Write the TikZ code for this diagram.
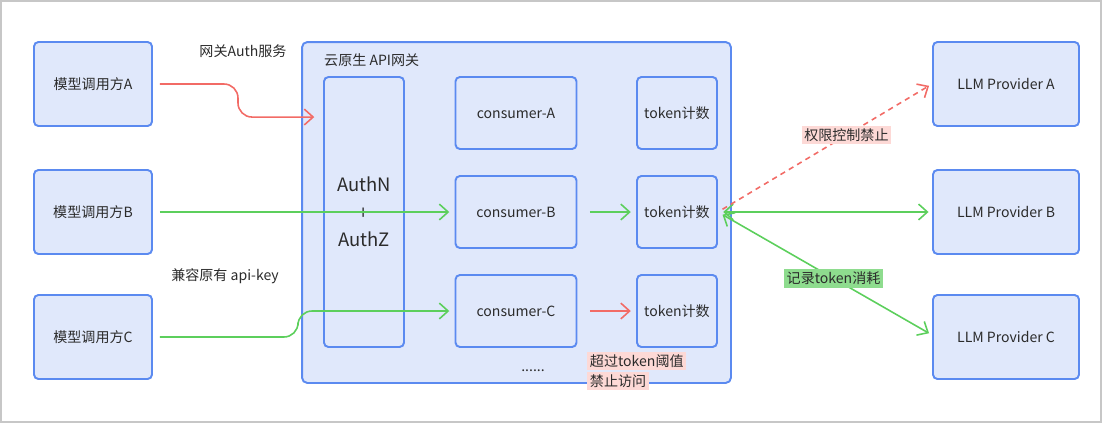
\documentclass[tikz,border=0pt]{standalone}
\usepackage{fontspec}
\setmainfont{Noto Sans CJK SC}
\usetikzlibrary{arrows.meta}

\definecolor{boxfill}{HTML}{E0E8FB}
\definecolor{boxline}{HTML}{5B8AF0}
\definecolor{redline}{HTML}{F26B66}
\definecolor{greenline}{HTML}{5CCF5C}
\definecolor{pinkbg}{HTML}{FDD9D6}
\definecolor{greenbg}{HTML}{8EDC8E}
\definecolor{txt}{HTML}{2B2B2B}

\begin{document}
\begin{tikzpicture}[
        x=0.02cm, y=-0.02cm,
        every node/.style={font=\fontsize{8}{10}\selectfont, text=txt},
        box/.style={rectangle, draw=boxline, fill=boxfill, line width=1.1pt,
            rounded corners=2.5pt, align=center},
        caller/.style={box, minimum width=2.36cm, minimum height=1.68cm},
        provider/.style={box, minimum width=2.92cm, minimum height=1.68cm},
        consumer/.style={box, minimum width=2.42cm, minimum height=1.44cm},
        counter/.style={box, minimum width=1.6cm, minimum height=1.44cm},
        arrow/.style={-{Straight Barb[length=5pt,width=9pt]}, line width=0.9pt},
        redarrow/.style={arrow, draw=redline},
        greenarrow/.style={arrow, draw=greenline},
        tag/.style={inner sep=1.5pt}
      ]
      \useasboundingbox (0,0) rectangle (1102,423);
      \draw[draw=black!22, line width=1pt] (1,1) rectangle (1101,422);

      % callers
      \node[caller] (callA) at (93,84)  {模型调用方A};
      \node[caller] (callB) at (93,212) {模型调用方B};
      \node[caller] (callC) at (93,337) {模型调用方C};

      % gateway
      \node[box, minimum width=8.58cm, minimum height=6.82cm,
        rounded corners=3pt] (gw) at (516.5,212.5) {};
      \node[anchor=west] (gwtitle) at (318,60) {云原生 API网关};

      \node[box, minimum width=1.6cm, minimum height=5.4cm,
        font=\fontsize{10.5}{15.5}\selectfont] (auth) at (364,212)
      {AuthN\\+\\AuthZ};

      \node[consumer] (consA) at (516,113) {consumer-A};
      \node[consumer] (consB) at (516,212) {consumer-B};
      \node[consumer] (consC) at (516,311) {consumer-C};

      \node[counter] (tokA) at (677,113) {token计数};
      \node[counter] (tokB) at (677,212) {token计数};
      \node[counter] (tokC) at (677,311) {token计数};

      \node (more) at (533,371) {......};

      % providers
      \node[provider] (provA) at (1006,84)  {LLM Provider A};
      \node[provider] (provB) at (1006,212) {LLM Provider B};
      \node[provider] (provC) at (1006,337) {LLM Provider C};

      % labels
      \node (authlbl) at (243,51) {网关Auth服务};
      \node (keylbl)  at (225,276) {兼容原有 api-key};

      % connectors
      \draw[redarrow, rounded corners=8pt, shorten <=4pt, shorten >=5pt]
      (callA.east) -- (238,84) |- ([yshift=-0.82cm]auth.north west);
      \draw[greenarrow, shorten <=4pt, shorten >=3pt] (callB.east) -- (consB.west);
      \draw[greenarrow, rounded corners=8pt, shorten <=4pt, shorten >=3pt]
      (callC.east) -- (298,337) |- (consC.west);

      \draw[greenarrow, shorten <=7pt, shorten >=3pt] (consB.east) -- (tokB.west);
      \draw[redarrow, shorten <=7pt, shorten >=3pt] (consC.east) -- (tokC.west);

      \draw[greenarrow, {Straight Barb[length=5pt,width=9pt]}-{Straight Barb[length=5pt,width=9pt]},
        shorten <=3pt, shorten >=2pt] (tokB.east) -- (provB.west);
      \draw[greenarrow, {Straight Barb[length=5pt,width=9pt]}-{Straight Barb[length=5pt,width=9pt]},
        shorten <=3pt, shorten >=2pt] (tokB.east) -- ([yshift=0.04cm]provC.west)
      node[pos=0.54, tag, fill=greenbg] (uselbl) {记录token消耗};
      \draw[redarrow, dash pattern=on 3pt off 2.5pt, shorten <=3pt, shorten >=2pt]
      (tokB.east) -- (provA.west)
      node[pos=0.6, tag, fill=pinkbg] (denylbl) {权限控制禁止};

      \node[tag, fill=pinkbg, anchor=west] (overlbl) at (587,361) {超过token阈值};
      \node[tag, fill=pinkbg, anchor=west] (overlbl2) at (587,381) {禁止访问};
    \end{tikzpicture}
\end{document}
